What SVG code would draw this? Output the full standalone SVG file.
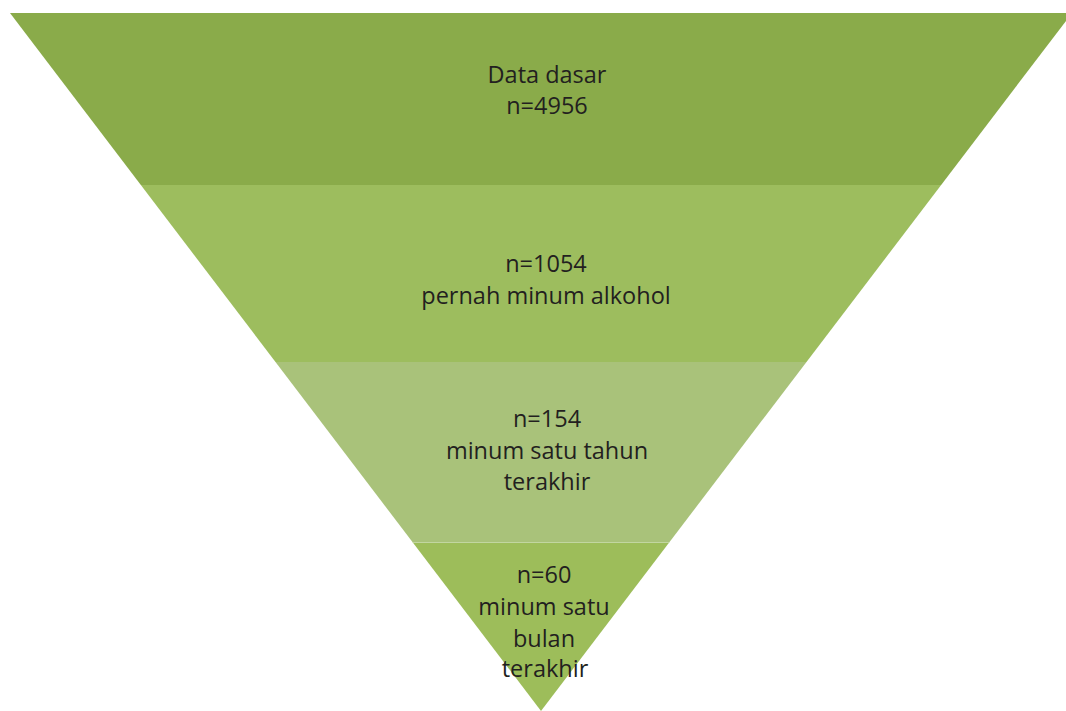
<svg xmlns="http://www.w3.org/2000/svg" width="1066" height="711" viewBox="0 0 1066 711">
<defs>
<style>
text{font-family:"Open Sans","Liberation Sans",sans-serif;font-size:23.5px;fill:#231f20;text-anchor:middle}
</style>
<clipPath id="tri"><polygon points="10,13 1072,13 541,711"/></clipPath>
</defs>
<rect width="1066" height="711" fill="#ffffff"/>
<g clip-path="url(#tri)">
<g id="band1"><rect x="0" y="13" width="1080" height="172" fill="#8aab4a"/></g>
<g id="band2"><rect x="0" y="185" width="1080" height="177" fill="#9dbd5e"/></g>
<g id="band3"><rect x="0" y="362" width="1080" height="180" fill="#a9c27a"/></g>
<g id="band4"><rect x="0" y="542" width="1080" height="170" fill="#9dbd5a"/><line x1="0" y1="542.5" x2="1080" y2="542.5" stroke="#c2d6a0" stroke-width="1"/></g>
</g>
<g id="labels">
<text x="547" y="83">Data dasar</text>
<text x="547" y="114">n=4956</text>
<text x="546" y="272">n=1054</text>
<text x="546" y="304">pernah minum alkohol</text>
<text x="547" y="427">n=154</text>
<text x="547" y="459">minum satu tahun</text>
<text x="547" y="490">terakhir</text>
<text x="544" y="583">n=60</text>
<text x="544" y="615">minum satu</text>
<text x="544" y="647">bulan</text>
<text x="545" y="677">terakhir</text>
</g>
</svg>
